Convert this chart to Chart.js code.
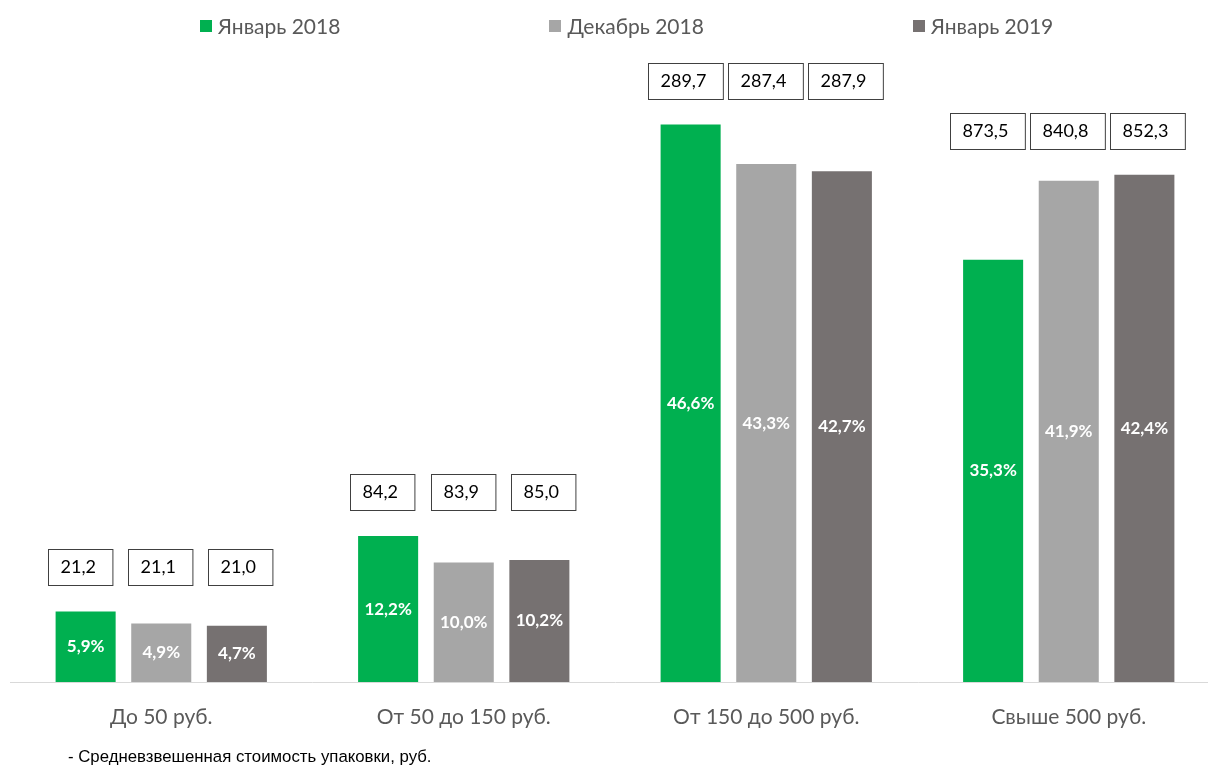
<!DOCTYPE html>
<html>
<head>
<meta charset="utf-8">
<script src="https://cdn.jsdelivr.net/npm/chart.js@4.4.1/dist/chart.umd.min.js"></script>
<style>
  html, body { margin: 0; padding: 0; background: #fff; overflow: hidden; }
  #wrap { position: relative; width: 1208px; height: 768px; overflow: hidden; }
  #myChart { position: absolute; left: 0; top: 0; }
  #legend { position: absolute; left: 200px; top: 13px; display: flex; gap: 209px;
    font-family: Lato, "Open Sans", sans-serif; font-size: 21px; color: #595959; }
  #legend .item { display: flex; align-items: center; white-space: nowrap; }
  #legend .sw { width: 12px; height: 12px; margin-right: 6px; }
  #note { position: absolute; left: 68px; top: 747px; font-family: "Liberation Sans", Arial, sans-serif;
    font-size: 16.8px; color: #000; white-space: nowrap; }
</style>
</head>
<body>
<div id="wrap">
  <canvas id="myChart" width="1220" height="768" style="width:1220px;height:768px"></canvas>
  <div id="legend"></div>
  <div id="note">- Средневзвешенная стоимость упаковки, руб.</div>
</div>
<script>
let categories = ['До 50 руб.', 'От 50 до 150 руб.', 'От 150 до 500 руб.', 'Свыше 500 руб.']
let seriesNames = ['Январь 2018', 'Декабрь 2018', 'Январь 2019']
let colors = ['#00b050', '#a6a6a6', '#767171']
// доля, %
let share_jan18 = [5.9, 12.2, 46.6, 35.3]
let share_dec18 = [4.9, 10.0, 43.3, 41.9]
let share_jan19 = [4.7, 10.2, 42.7, 42.4]
// средневзвешенная стоимость упаковки, руб.
let price_jan18 = [21.2, 84.2, 289.7, 873.5]
let price_dec18 = [21.1, 83.9, 287.4, 840.8]
let price_jan19 = [21.0, 85.0, 287.9, 852.3]

let shares = [share_jan18, share_dec18, share_jan19]
let prices = [price_jan18, price_dec18, price_jan19]

function fmt(v) {
    return v.toFixed(1).replace('.', ',')
}

// legend
let legend = document.getElementById('legend')
for (let i = 0; i < seriesNames.length; i++) {
    let item = document.createElement('div')
    item.className = 'item'
    item.innerHTML = '<span class="sw" style="background:' + colors[i] + '"></span>' + seriesNames[i]
    legend.appendChild(item)
}

const labelsPlugin = {
    id: 'labelsPlugin',
    afterDatasetsDraw(chart) {
        let ctx = chart.ctx
        let yScale = chart.scales.y
        let xScale = chart.scales.x
        ctx.save()
        for (let d = 0; d < chart.data.datasets.length; d++) {
            let meta = chart.getDatasetMeta(d)
            meta.data.forEach((bar, i) => {
                // % inside bar
                ctx.fillStyle = '#ffffff'
                ctx.font = 'bold 17px Lato, "Open Sans", sans-serif'
                ctx.textAlign = 'center'
                ctx.textBaseline = 'middle'
                ctx.fillText(fmt(shares[d][i]) + '%', bar.x, (bar.y + bar.base) / 2)

                // price box above group
                let groupMax = Math.max(...shares.map(s => s[i]))
                let groupX = xScale.getPixelForValue(i)
                let cx = groupX - 1 + (bar.x - groupX) * 1.06
                let bottom = yScale.getPixelForValue(groupMax) - 26
                ctx.font = '18px Lato, "Open Sans", sans-serif'
                let txt = fmt(prices[d][i])
                let w = ctx.measureText(txt).width + 29
                let h = 36
                let left = Math.round(cx - w / 2) + 0.5
                let top = Math.round(bottom - h) + 0.5
                ctx.fillStyle = '#ffffff'
                ctx.fillRect(left, top, w, h)
                ctx.strokeStyle = '#404040'
                ctx.lineWidth = 1
                ctx.strokeRect(left, top, w, h)
                ctx.fillStyle = '#000000'
                ctx.textAlign = 'left'
                ctx.fillText(txt, left + 12, top + h / 2)
            })
        }
        ctx.restore()
    }
}

const ctx1 = document.getElementById('myChart').getContext('2d')
const myChart = new Chart(ctx1, {
    type: 'bar',
    data: {
        labels: categories,
        datasets: seriesNames.map((name, i) => ({
            label: name,
            data: shares[i],
            backgroundColor: colors[i],
            borderWidth: 0,
            barPercentage: 0.794,
            categoryPercentage: 0.75
        }))
    },
    options: {
        responsive: false,
        animation: false,
        layout: { padding: { left: 10, right: 0, top: 60, bottom: 0 } },
        plugins: {
            legend: { display: false },
            tooltip: { enabled: false }
        },
        scales: {
            x: {
                grid: { display: false },
                border: { display: true, color: '#d9d9d9', width: 1 },
                ticks: {
                    color: '#595959',
                    padding: 15,
                    font: { family: 'Lato, "Open Sans", sans-serif', size: 21 }
                },
                afterFit(scale) { scale.height = 86 }
            },
            y: {
                display: false,
                min: 0,
                max: 52
            }
        }
    },
    plugins: [labelsPlugin]
})
</script>
</body>
</html>
